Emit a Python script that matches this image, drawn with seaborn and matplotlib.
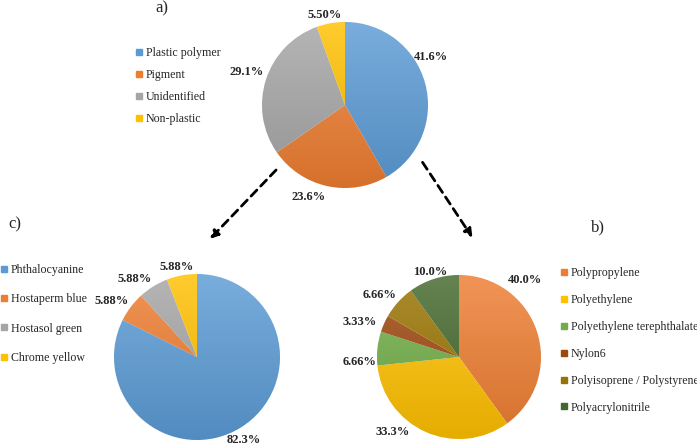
import numpy as np
import matplotlib
matplotlib.use("Agg")
import matplotlib.pyplot as plt
import seaborn as sns
from matplotlib.lines import Line2D
from matplotlib.patches import FancyArrowPatch
from matplotlib.colors import LinearSegmentedColormap, to_rgb

# ---- data ----
a_labels = ["Plastic polymer", "Pigment", "Unidentified", "Non-plastic"]
a_values = [41.6, 23.6, 29.1, 5.50]
a_text = ["41.6%", "23.6%", "29.1%", "5.50%"]

c_labels = ["Phthalocyanine", "Hostaperm blue", "Hostasol green", "Chrome yellow"]
c_values = [82.3, 5.88, 5.88, 5.88]
c_text = ["82.3%", "5.88%", "5.88%", "5.88%"]

b_labels = ["Polypropylene", "Polyethylene", "Polyethylene terephthalate", "Nylon6",
            "Polyisoprene / Polystyrene", "Polyacrylonitrile"]
b_values = [40.0, 33.3, 6.66, 3.33, 6.66, 10.0]
b_text = ["40.0%", "33.3%", "6.66%", "3.33%", "6.66%", "10.0%"]

a_colors = ["#5B9BD5", "#ED7D31", "#A5A5A5", "#FFC000"]
c_colors = ["#5B9BD5", "#ED7D31", "#A5A5A5", "#FFC000"]
b_colors = ["#ED7D31", "#FFC000", "#70AD47", "#9E480E", "#997300", "#43682B"]

# label placement styling: (radial distance, angle nudge in degrees)
a_lab_pos = [(1.19, 14.2), (1.19, -9.3), (1.25, -0.9), (1.11, 2.6)]
c_lab_pos = [(1.15, -2.1), (1.23, 3.6), (1.20, 6.7), (1.11, 1.9)]
b_lab_pos = [(1.24, 31.4), (1.22, -17.3), (1.22, 8.9), (1.28, 4.5), (1.23, 4.2), (1.10, 0.8)]

sns.set_theme(style="white")
plt.rcParams["font.family"] = ["Liberation Serif", "DejaVu Serif"]
SERIF = "Liberation Serif"

W, H = 697, 445
fig = plt.figure(figsize=(W / 100, H / 100), dpi=100)


def shade(c, f):
    r = np.array(to_rgb(c))
    if f >= 0:
        return tuple(r + (1 - r) * f)
    return tuple(r * (1 + f))


def draw_pie(cx, cy, r, values, colors, texts, lab_pos):
    ax = fig.add_axes([(cx - r) / W, 1 - (cy + r) / H, 2 * r / W, 2 * r / H])
    wedges, _ = ax.pie(values, colors=colors, startangle=90, counterclock=False,
                       wedgeprops=dict(linewidth=0.8, edgecolor="white"))
    grad = np.linspace(0, 1, 256).reshape(-1, 1)
    for w, c in zip(wedges, colors):
        cmap = LinearSegmentedColormap.from_list("g", [shade(c, 0.18), shade(c, -0.1)])
        im = ax.imshow(grad, extent=(-1, 1, -1, 1), origin="upper", cmap=cmap,
                       aspect="auto", zorder=w.get_zorder() + 0.1)
        im.set_clip_path(w)
    total = sum(values)
    start = 90.0
    for v, t, (d, nudge) in zip(values, texts, lab_pos):
        span = 360.0 * v / total
        mid = np.deg2rad(start - span / 2 + nudge)
        start -= span
        ax.text(d * np.cos(mid), d * np.sin(mid), t, ha="center", va="center",
                fontsize=9, fontweight="bold", family=SERIF, clip_on=False)
    ax.set_xlim(-1, 1)
    ax.set_ylim(-1, 1)
    ax.set_aspect("equal", adjustable="box")
    ax.axis("off")
    return ax


draw_pie(345, 105, 83, a_values, a_colors, a_text, a_lab_pos)
draw_pie(197, 357, 83, c_values, c_colors, c_text, c_lab_pos)
draw_pie(459, 357, 82, b_values, b_colors, b_text, b_lab_pos)


def legend(labels, colors, x, y, spacing):
    handles = [Line2D([], [], marker="s", linestyle="none", markersize=5,
                      markerfacecolor=c, markeredgecolor=c) for c in colors]
    leg = fig.legend(handles, labels, loc="upper left", bbox_to_anchor=(x / W, 1 - y / H),
                     frameon=False, prop={"family": SERIF, "size": 8.6},
                     labelspacing=spacing, handlelength=0.5,
                     handletextpad=0.3, borderpad=0, borderaxespad=0)
    return leg


legend(a_labels, a_colors, 136, 47, 0.85)
legend(c_labels, c_colors, 1, 264, 1.45)
legend(b_labels, b_colors, 561, 267, 1.25)

fig.text(162 / W, 1 - 8 / H, "a)", fontsize=12, family=SERIF, ha="center", va="center")
fig.text(598 / W, 1 - 227 / H, "b)", fontsize=12, family=SERIF, ha="center", va="center")
fig.text(15 / W, 1 - 224 / H, "c)", fontsize=12, family=SERIF, ha="center", va="center")

for (x0, y0), (x1, y1) in [((278, 168), (208, 241)), ((421, 160), (474, 240))]:
    arr = FancyArrowPatch((x0 / W, 1 - y0 / H), (x1 / W, 1 - y1 / H),
                          transform=fig.transFigure, arrowstyle="-|>", mutation_scale=12,
                          linestyle=(0, (3, 2)), linewidth=2, color="black")
    fig.patches.append(arr)

fig.savefig("out.png", dpi=100)
